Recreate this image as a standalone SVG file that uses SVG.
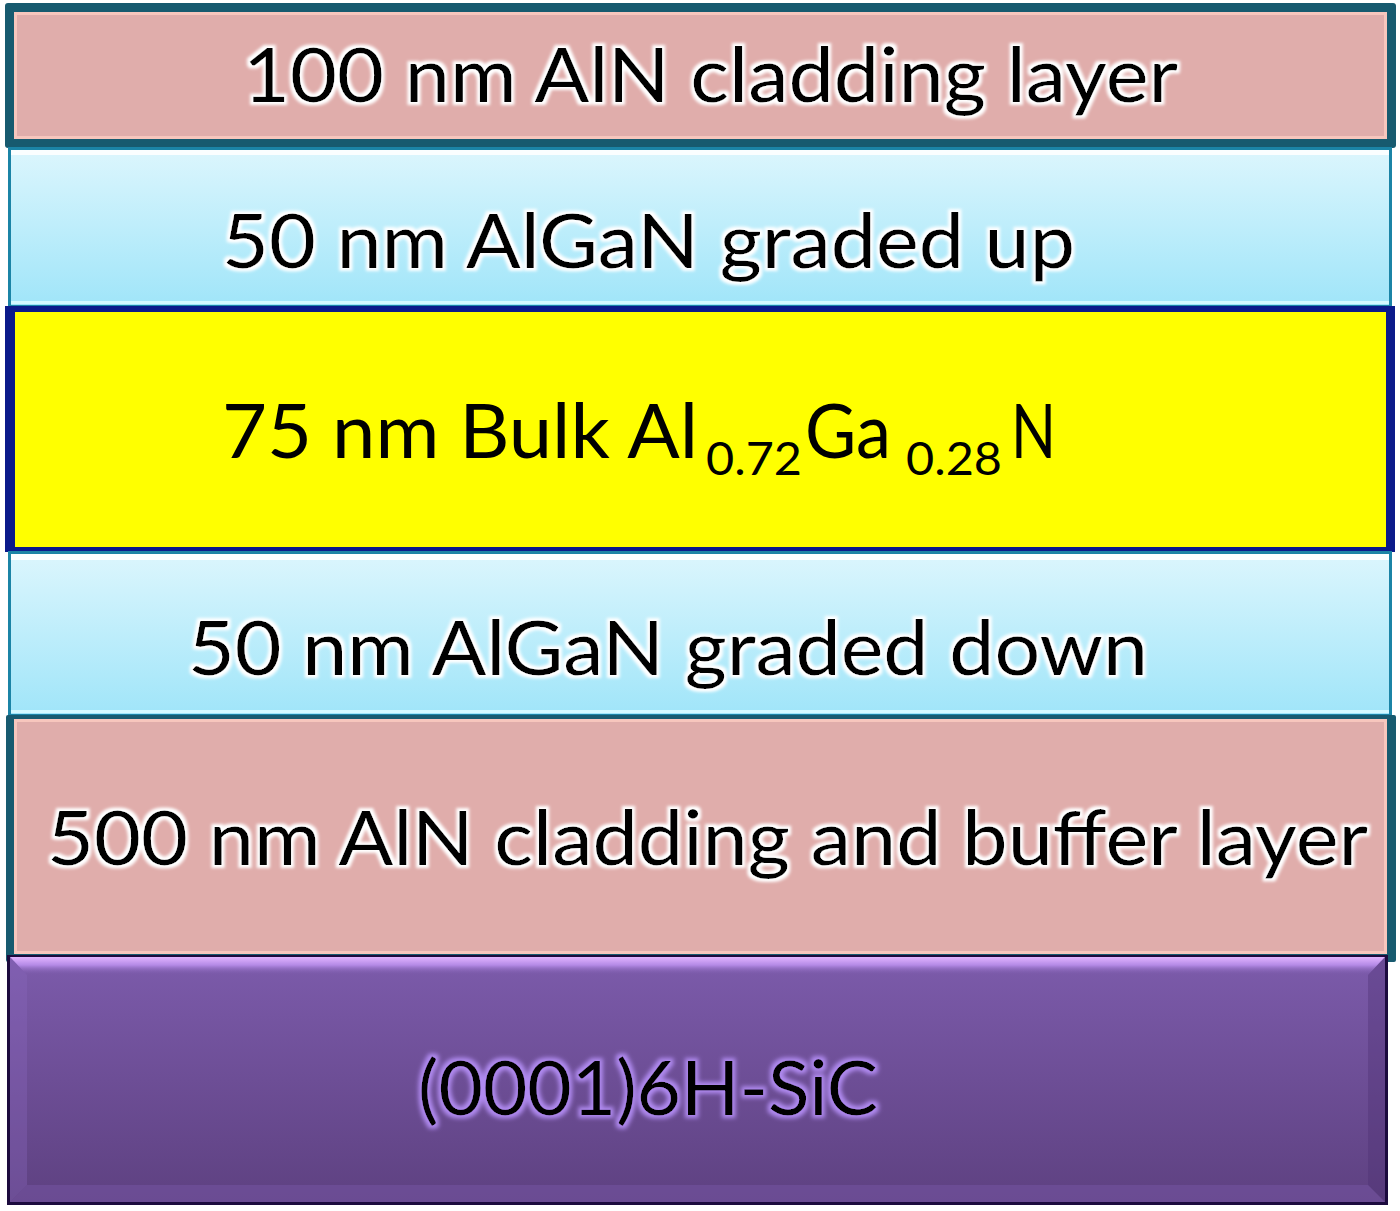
<svg xmlns="http://www.w3.org/2000/svg" width="1400" height="1211" viewBox="0 0 1400 1211">
  <defs>
    <linearGradient id="blueG" x1="0" y1="0" x2="0" y2="1">
      <stop offset="0" stop-color="#dcf6fd"/>
      <stop offset="1" stop-color="#a0e5f9"/>
    </linearGradient>
    <linearGradient id="purpleG" x1="0" y1="0" x2="0" y2="1">
      <stop offset="0" stop-color="#7c5bab"/>
      <stop offset="1" stop-color="#5e4181"/>
    </linearGradient>
    <linearGradient id="bevelG" x1="0" y1="0" x2="0" y2="1">
      <stop offset="0" stop-color="#e2b4ff"/>
      <stop offset="0.45" stop-color="#b48ae6"/>
      <stop offset="1" stop-color="#7c5bab" stop-opacity="0"/>
    </linearGradient>
    <filter id="glowW" x="-5%" y="-30%" width="110%" height="160%">
      <feMorphology in="SourceAlpha" operator="dilate" radius="2.5" result="d"/>
      <feGaussianBlur in="d" stdDeviation="1.6" result="b"/>
      <feFlood flood-color="#ffffff"/>
      <feComposite in2="b" operator="in" result="g"/>
      <feMerge><feMergeNode in="g"/><feMergeNode in="SourceGraphic"/></feMerge>
    </filter>
    <filter id="glowP" x="-5%" y="-30%" width="110%" height="160%">
      <feMorphology in="SourceAlpha" operator="dilate" radius="2.5" result="d"/>
      <feGaussianBlur in="d" stdDeviation="2" result="b"/>
      <feFlood flood-color="#b08af0"/>
      <feComposite in2="b" operator="in" result="g"/>
      <feMerge><feMergeNode in="g"/><feMergeNode in="SourceGraphic"/></feMerge>
    </filter>
  </defs>
  <style>
    .lbl { font-family: Lato, "Open Sans", "Liberation Sans", sans-serif; font-size: 75px; fill: #000; }
    .sub { font-size: 46px; }
    .glow { filter: url(#glowW); }
    .pink { fill: #e0adab; stroke: #f7c6bd; stroke-width: 3; }
    .teal { fill: #175a6f; }
    .blue { fill: url(#blueG); stroke: #1b84a6; stroke-width: 3; }
  </style>
  <rect width="1400" height="1211" fill="#ffffff"/>

  <g id="aln-top">
    <rect class="teal" x="5" y="3" width="1391" height="145" rx="3"/>
    <rect class="pink" x="15.5" y="13.5" width="1370" height="124"/>
    <text class="lbl glow" x="243" y="102" textLength="935" lengthAdjust="spacingAndGlyphs">100 nm AlN cladding layer</text>
  </g>

  <g id="graded-up">
    <rect class="blue" x="9.5" y="148.5" width="1381" height="158"/>
    <rect x="11" y="150" width="1378" height="5" fill="#ffffff" opacity="0.85"/>
    <rect x="11" y="301" width="1378" height="3" fill="#d8fbff" opacity="0.9"/>
    <text class="lbl glow" x="222" y="268" textLength="853" lengthAdjust="spacingAndGlyphs">50  nm AlGaN graded up</text>
  </g>

  <g id="bulk">
    <rect x="5" y="306" width="1390" height="246" fill="#0b1a8a"/>
    <rect x="15" y="312" width="1371" height="235" fill="#ffff00"/>
    <text class="lbl" y="458">
      <tspan x="222" textLength="476" lengthAdjust="spacingAndGlyphs">75 nm Bulk Al</tspan><tspan class="sub" x="706" y="475" textLength="96" lengthAdjust="spacingAndGlyphs">0.72</tspan><tspan x="805" y="458" textLength="86" lengthAdjust="spacingAndGlyphs">Ga</tspan><tspan class="sub" x="906" y="475" textLength="96" lengthAdjust="spacingAndGlyphs">0.28</tspan><tspan x="1011" y="458" textLength="45" lengthAdjust="spacingAndGlyphs">N</tspan>
    </text>
  </g>

  <g id="graded-down">
    <rect class="blue" x="9.5" y="552.5" width="1381" height="163"/>
    <rect x="11" y="554" width="1378" height="6" fill="#ffffff" opacity="0.85"/>
    <rect x="11" y="710" width="1378" height="3" fill="#d8fbff" opacity="0.9"/>
    <text class="lbl glow" x="188" y="675" textLength="960" lengthAdjust="spacingAndGlyphs">50  nm AlGaN graded down</text>
  </g>

  <g id="aln-buffer">
    <rect class="teal" x="6" y="715" width="1390" height="247" rx="2"/>
    <rect class="pink" x="15.5" y="720.5" width="1370" height="232"/>
    <text class="lbl glow" x="47" y="865" textLength="1321" lengthAdjust="spacingAndGlyphs">500 nm AlN cladding and buffer layer</text>
  </g>

  <g id="sic">
    <rect x="7" y="955" width="1381" height="250" fill="#1c0b3e"/>
    <rect x="10" y="957" width="1375" height="245" fill="url(#purpleG)"/>
    <polygon points="10,957 1385,957 1368,975 27,975" fill="url(#bevelG)"/>
    <polygon points="10,957 27,975 27,1185 10,1202" fill="#8a68bc" opacity="0.35"/>
    <polygon points="1385,957 1368,975 1368,1185 1385,1202" fill="#4a2e70" opacity="0.35"/>
    <polygon points="10,1202 27,1185 1368,1185 1385,1202" fill="#7a58a8" opacity="0.45"/>
    <text class="lbl" x="418" y="1115" textLength="460" lengthAdjust="spacingAndGlyphs" filter="url(#glowP)">(0001)6H-SiC</text>
  </g>
</svg>
